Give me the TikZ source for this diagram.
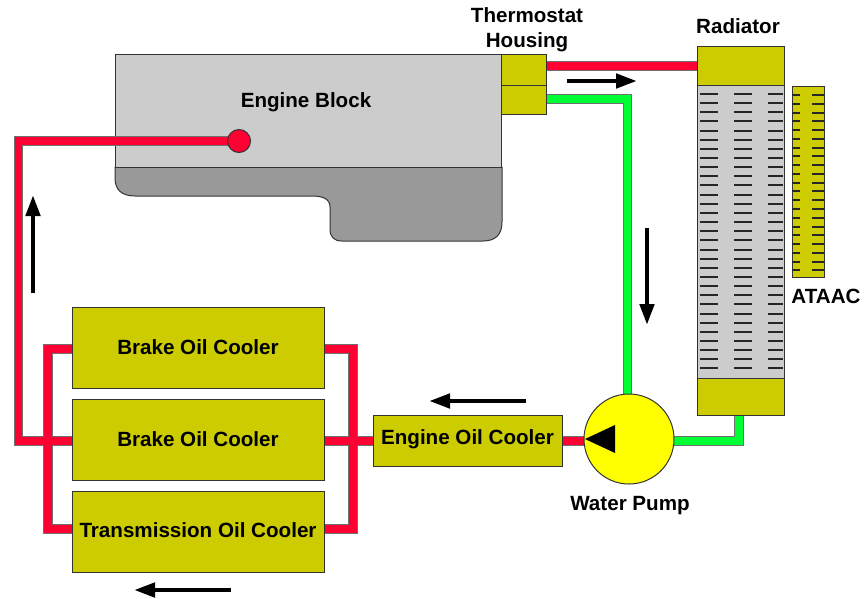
\documentclass[tikz,border=0pt]{standalone}
\usepackage{fontspec}
\setmainfont{Liberation Sans}
\usetikzlibrary{arrows.meta}
\pgfdeclarelayer{base}
\pgfdeclarelayer{pipes}
\pgfsetlayers{base,pipes,main}
\definecolor{olivebox}{HTML}{CCCC00}
\definecolor{pipered}{HTML}{FF0033}
\definecolor{pipegreen}{HTML}{00FF33}
\definecolor{coregray}{HTML}{CCCCCC}
\definecolor{pangray}{HTML}{999999}
\definecolor{edgedark}{HTML}{333333}
\definecolor{pipeedge}{HTML}{707070}
\definecolor{pumpyellow}{RGB}{255,255,0}
\tikzset{
  outlined/.style={draw=edgedark,line width=1pt},
  olivepart/.style={outlined,fill=olivebox,inner sep=0pt,rectangle},
  graypart/.style={outlined,fill=coregray,inner sep=0pt,rectangle},
  label text/.style={font=\fontsize{20.6}{24.8}\selectfont\bfseries,inner sep=0pt,align=center,text=black},
  redpipe/.style={draw=pipered,line width=7.6pt,preaction={draw=pipeedge,line width=9.4pt}},
  greenpipe/.style={draw=pipegreen,line width=7.6pt,preaction={draw=pipeedge,line width=9.4pt}},
  flow/.style={draw=black,line width=4.6pt,-{Triangle[length=21pt,width=14pt]}},
  fin/.style={draw=black!85,line width=1.5pt}
}
\begin{document}
\begin{tikzpicture}[x=1pt,y=-1pt]
\useasboundingbox (0,0) rectangle (866,598);
% engine block
\begin{pgfonlayer}{base}
\draw[outlined,fill=pangray] (115,167) -- (115,178) .. controls (115,190) and (122,196) .. (135,196)
  -- (312,196) .. controls (323,196) and (330,199) .. (330,207) -- (330,229)
  .. controls (330,237) and (334,241) .. (342,241) -- (483,241)
  .. controls (496,241) and (502,234) .. (502,222) -- (502,167) -- cycle;
\node[graypart,minimum width=386,minimum height=113] (engine) at (308,110.5) {};
\end{pgfonlayer}
\node[label text] (enginelabel) at (306,102) {Engine Block};
% thermostat housing
\node[olivepart,minimum width=45,minimum height=31] (thA) at (523.5,69.5) {};
\node[olivepart,minimum width=45,minimum height=29] (thB) at (523.5,99.5) {};
\node[label text] (thlabel) at (527,29.5) {Thermostat\\Housing};
% radiator
\node[graypart,minimum width=87,minimum height=293] (core) at (740.5,231.5) {};
\node[olivepart,minimum width=87,minimum height=39] (tankT) at (740.5,65.5) {};
\node[olivepart,minimum width=87,minimum height=37] (tankB) at (740.5,396.5) {};
\foreach \r in {0,...,30} {
  \pgfmathsetmacro{\yy}{round(94+\r*9.15)}
  \draw[fin] (700,\yy) -- (718,\yy);
  \draw[fin] (734,\yy) -- (752,\yy);
  \draw[fin] (768,\yy) -- (783,\yy);
}
\node[label text] (radlabel) at (738,26) {Radiator};
% ATAAC
\node[olivepart,minimum width=32,minimum height=191] (ataac) at (808,181.5) {};
\foreach \r in {0,...,20} {
  \pgfmathsetmacro{\yy}{round(95+\r*8.77)}
  \draw[fin] (792,\yy) -- (800,\yy);
  \draw[fin] (812,\yy) -- (824,\yy);
}
\node[label text] (ataaclabel) at (826,296) {ATAAC};
% pump
\node[circle,outlined,fill=pumpyellow,minimum size=90,inner sep=0pt] (pump) at (629,439) {};
\fill[black] (585,439) -- (615,425) -- (615,453) -- cycle;
\node[label text] (pumplabel) at (630,506) {Water Pump};
% coolers
\node[olivepart,minimum width=189,minimum height=51] (eoc) at (467.5,440.5) {};
\node[label text] at (eoc.center) [yshift=1.5pt] (eoclabel) {Engine Oil Cooler};
\node[olivepart,minimum width=252,minimum height=81] (bA) at (198,347.5) {};
\node[label text] (bAlabel) at (198,347) {Brake Oil Cooler};
\node[olivepart,minimum width=252,minimum height=81] (bB) at (198,439.5) {};
\node[label text] (bBlabel) at (198,439) {Brake Oil Cooler};
\node[olivepart,minimum width=252,minimum height=81] (tr) at (198,532) {};
\node[label text] (trlabel) at (198,530) {Transmission Oil Cooler};
% inlet port
\node[circle,draw=edgedark,line width=1pt,fill=pipered,minimum size=23,inner sep=0pt] (port) at (239,141) {};
% pipe routing points
\coordinate (cornerTop) at (18.5,141);
\coordinate (cornerBot) at (18.5,441);
\coordinate (lT) at (48,349);
\coordinate (lM) at (48,441);
\coordinate (lB) at (48,529);
\coordinate (rT) at (353,349);
\coordinate (rM) at (353,441);
\coordinate (rB) at (353,529);
\coordinate (hot) at (620,66);
\coordinate (gA) at (627.5,99);
\coordinate (gB) at (739,441);
\begin{pgfonlayer}{pipes}
\path[redpipe]
  (port.center) -- (cornerTop) -- (cornerBot) -- (bB.west |- lM)
  (bA.west |- lT) -- (lT) -- (lB) -- (tr.west |- lB)
  (bA.east |- rT) -- (rT) -- (rB) -- (tr.east |- rB)
  (bB.east |- rM) -- (eoc.west |- rM)
  (eoc.east |- rM) -- (pump.center |- rM)
  (thA.east |- hot) -- (tankT.west |- hot);
\path[greenpipe]
  (thB.east |- gA) -- (gA) -- (gA |- pump.center)
  (pump.center |- gB) -- (gB) -- (gB |- tankB.south);
\end{pgfonlayer}
% flow arrows
\coordinate (a1s) at (567,81); \coordinate (a1e) at (637,81);
\coordinate (a2s) at (647,228); \coordinate (a2e) at (647,325);
\coordinate (a3s) at (526,401); \coordinate (a3e) at (429,401);
\coordinate (a4s) at (33,293); \coordinate (a4e) at (33,195);
\coordinate (a5s) at (231,590); \coordinate (a5e) at (134,590);
\draw[flow] (a1s) -- (a1e);
\draw[flow] (a2s) -- (a2e);
\draw[flow] (a3s) -- (a3e);
\draw[flow] (a4s) -- (a4e);
\draw[flow] (a5s) -- (a5e);
\end{tikzpicture}
\end{document}
